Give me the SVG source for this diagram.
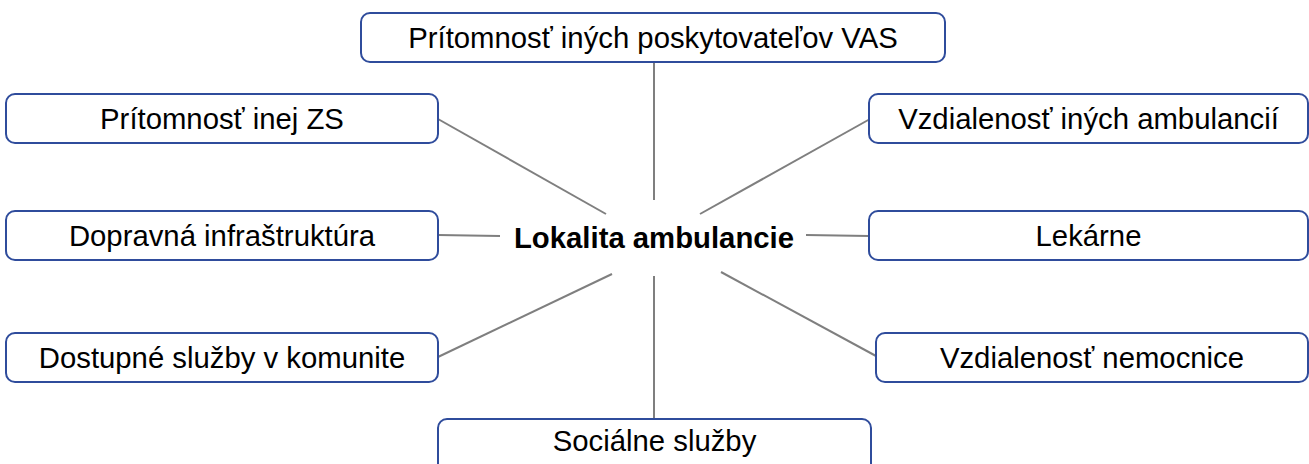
<svg xmlns="http://www.w3.org/2000/svg" width="1309" height="464" viewBox="0 0 1309 464">
<style>
.box{fill:#fff;stroke:#2f4c9c;stroke-width:2}
.t{font-family:"Liberation Sans",Arial,sans-serif;font-size:29.3px;fill:#000;text-anchor:middle}
.c{font-weight:bold}
.ln{stroke:#7f7f7f;stroke-width:2;fill:none}
</style>
<rect width="1309" height="464" fill="#fff"/>
<g id="connectors">
<line class="ln" x1="654" y1="62" x2="654" y2="200"/>
<line class="ln" x1="438" y1="119" x2="606" y2="214"/>
<line class="ln" x1="870" y1="119" x2="700" y2="214"/>
<line class="ln" x1="438" y1="235" x2="500" y2="236"/>
<line class="ln" x1="806" y1="235" x2="869" y2="236"/>
<line class="ln" x1="438" y1="357" x2="612" y2="274"/>
<line class="ln" x1="876" y1="356" x2="721" y2="272"/>
<line class="ln" x1="654" y1="276" x2="654" y2="419"/>
</g>
<g id="center"><text class="t c" x="654" y="248">Lokalita ambulancie</text></g>
<g id="n-top"><rect class="box" x="361" y="13" width="584" height="49" rx="9"/><text class="t" x="653" y="48">Prítomnosť iných poskytovateľov VAS</text></g>
<g id="n-zs"><rect class="box" x="6" y="94" width="432" height="49" rx="9"/><text class="t" x="222" y="129">Prítomnosť inej ZS</text></g>
<g id="n-amb"><rect class="box" x="869" y="94" width="439" height="49" rx="9"/><text class="t" x="1088.5" y="129">Vzdialenosť iných ambulancií</text></g>
<g id="n-dop"><rect class="box" x="6" y="211" width="432" height="49" rx="9"/><text class="t" x="222" y="246">Dopravná infraštruktúra</text></g>
<g id="n-lek"><rect class="box" x="869" y="211" width="439" height="49" rx="9"/><text class="t" x="1088.5" y="246">Lekárne</text></g>
<g id="n-kom"><rect class="box" x="6" y="333" width="432" height="49" rx="9"/><text class="t" x="222" y="368">Dostupné služby v komunite</text></g>
<g id="n-nem"><rect class="box" x="876" y="333" width="432" height="49" rx="9"/><text class="t" x="1092" y="368">Vzdialenosť nemocnice</text></g>
<g id="n-soc"><rect class="box" x="438" y="419" width="433" height="55" rx="9"/><text class="t" x="654.5" y="451">Sociálne služby</text></g>
</svg>
